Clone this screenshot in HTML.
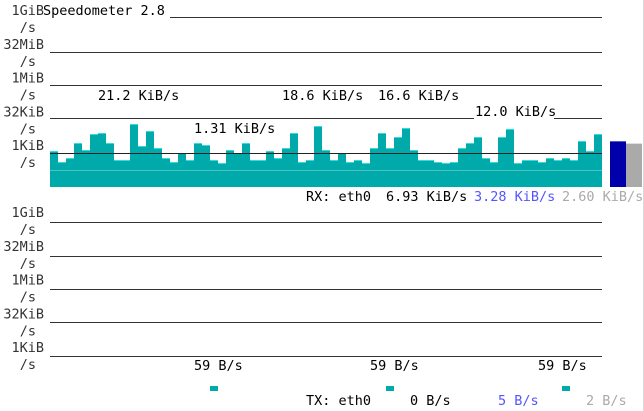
<!DOCTYPE html>
<html><head><meta charset="utf-8"><style>
html,body{margin:0;padding:0;background:#fff;}
svg{display:block;font-family:"DejaVu Sans Mono","Liberation Mono",monospace;font-size:13.5px;}
</style></head><body>
<svg id="c" width="644" height="411">
<rect x="643" y="0" width="1" height="411" fill="#d8d8d8"/>
<g id="labels" fill="#333" text-anchor="end"></g>
<g id="grid"></g>
<g id="bars"></g>
<g id="grid2"></g>
<rect x="168" y="3" width="8" height="1" fill="none"/>
<text x="43" y="15" fill="#000">Speedometer 2.8</text>
<g id="ann"></g>
<g id="tx"></g>
</svg>
<script>
const rxValuesKiB = [1.23,0.40,0.60,2.77,1.36,6.93,7.67,2.77,0.49,0.49,19.2,2.04,9.4,1.66,0.60,0.40,1.0,0.49,2.77,2.26,0.49,0.36,1.36,1.0,2.77,0.49,0.49,1.23,0.60,1.66,7.67,0.40,0.49,15.6,
1.36,0.49,1.0,0.40,0.49,0.36,1.66,7.67,1.66,5.1,12.8,1.36,0.49,0.49,0.40,0.36,0.40,1.66,2.77,5.1,0.60,0.40,5.1,11.6,0.36,0.49,0.49,0.40,0.60,0.49,0.60,0.49,3.4,1.23,6.93];
const rxSummaryKiB = [3.28, 2.60];
const tickLabels = ["1GiB","32MiB","1MiB","32KiB","1KiB"];
const txMarkIndex = [20, 42, 64];
const ns="http://www.w3.org/2000/svg";
function mk(t,a,p){const e=document.createElementNS(ns,t);for(const k in a)e.setAttribute(k,a[k]);p.appendChild(e);return e;}
function yScale(kib){return 153-6.8*Math.log2(kib);}
function xScale(i){return 50+i*8;}
const L=document.getElementById('labels');
[0,202].forEach(off=>{
  tickLabels.forEach((t,i)=>{
    const ty=15+i*16.9*2+off;
    const a=mk('text',{x:44,y:ty},L);a.textContent=t;
    
    
    const b=mk('text',{x:36,y:ty+17},L);b.textContent='/s';
    
    
  });
});
const G=document.getElementById('grid');
const lines=[[170,602,17],[50,602,52],[50,602,85],[50,474,118],[554,602,118],[50,602,222],[50,602,256],[50,602,289],[50,602,322],[50,602,356]];
lines.forEach(l=>{const e=mk('rect',{x:l[0],y:l[2],width:l[1]-l[0],height:1,fill:'#333'},G);

});
const B=document.getElementById('bars');
rxValuesKiB.forEach((v,i)=>{const y=yScale(v);
 const r=mk('rect',{x:xScale(i),y:y,width:8,height:187-y,fill:'#00aaaa'},B);
 
 
 mk('rect',{x:xScale(i),y:y,width:8,height:1,fill:'#33dddd'},B);
});
const avg=mk('rect',{x:50,y:170,width:552,height:1,fill:'#7fd5d5',opacity:0.6},B);


const g2=mk('rect',{x:50,y:153,width:552,height:1,fill:'#222'},document.getElementById('grid2'));


const sb=[['#0000aa',610,rxSummaryKiB[0]],['#aaaaaa',626,rxSummaryKiB[1]]];
sb.forEach(s=>{const y=yScale(s[2]);const r=mk('rect',{x:s[1],y:y,width:16,height:187-y,fill:s[0]},B);

});
const A=document.getElementById('ann');
const texts=[[98,100,'21.2 KiB/s','#000'],[282,100,'18.6 KiB/s','#000'],[378,100,'16.6 KiB/s','#000'],[475,116,'12.0 KiB/s','#000'],[194,133,'1.31 KiB/s','#000'],
[306,201,'RX: eth0','#000'],[386,201,'6.93 KiB/s','#000'],[474,201,'3.28 KiB/s','#5555ff'],[562,201,'2.60 KiB/s','#aaaaaa'],
[194,370,'59 B/s','#000'],[370,370,'59 B/s','#000'],[538,370,'59 B/s','#000'],
[306,405,'TX: eth0','#000'],[410,405,'0 B/s','#000'],[498,405,'5 B/s','#5555ff'],[586,405,'2 B/s','#aaaaaa']];
texts.forEach(t=>{const e=mk('text',{x:t[0],y:t[1],fill:t[3]},A);e.textContent=t[2];

});
const T=document.getElementById('tx');
txMarkIndex.forEach(i=>{const r=mk('rect',{x:xScale(i),y:386,width:8,height:5,fill:'#00aaaa'},T);

});
</script>
</body></html>
